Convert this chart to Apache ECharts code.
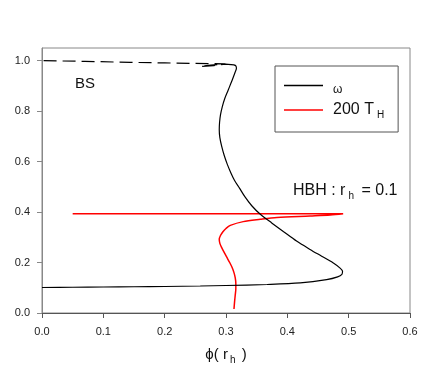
<!DOCTYPE html>
<html>
<head>
<meta charset="utf-8">
<script src="https://cdn.jsdelivr.net/npm/echarts@6/dist/echarts.min.js"></script>
<style>
  html, body { margin: 0; padding: 0; background: #fff; }
  #chart { width: 436px; height: 370px; }
</style>
</head>
<body>
<div id="chart"></div>
<script>
// omega branch (solid)
var omegaPhi = [0, 0.05, 0.1, 0.15, 0.2, 0.258, 0.3, 0.367, 0.421, 0.464, 0.482, 0.489, 0.490, 0.486, 0.475, 0.456, 0.437, 0.415, 0.394, 0.375, 0.356, 0.342, 0.331, 0.322, 0.314, 0.308, 0.302, 0.297, 0.293, 0.290, 0.289, 0.2895, 0.291, 0.294, 0.298, 0.303, 0.308, 0.312, 0.315, 0.317, 0.316, 0.313];
var omegaVal = [0.101, 0.102, 0.103, 0.104, 0.105, 0.107, 0.109, 0.113, 0.119, 0.132, 0.143, 0.153, 0.165, 0.178, 0.198, 0.225, 0.252, 0.285, 0.322, 0.356, 0.391, 0.425, 0.46, 0.495, 0.525, 0.555, 0.59, 0.625, 0.66, 0.695, 0.726, 0.755, 0.785, 0.818, 0.85, 0.88, 0.91, 0.935, 0.955, 0.97, 0.979, 0.983];
// boson star part (dashed)
var bsPhi = [0.313, 0.299, 0.28, 0.258, 0.275, 0.299, 0.25, 0.2, 0.144, 0.07, 0];
var bsVal = [0.983, 0.986, 0.980, 0.977, 0.982, 0.987, 0.989, 0.991, 0.993, 0.997, 1.0];
// 200 T_H
var tempPhi = [0.05, 0.2, 0.35, 0.45, 0.491, 0.47, 0.437, 0.383, 0.356, 0.328, 0.307, 0.300, 0.295, 0.291, 0.289, 0.290, 0.293, 0.297, 0.301, 0.306, 0.310, 0.313, 0.315, 0.316, 0.316, 0.315, 0.314, 0.313];
var tempVal = [0.393, 0.393, 0.393, 0.393, 0.393, 0.388, 0.384, 0.378, 0.371, 0.362, 0.347, 0.335, 0.322, 0.307, 0.292, 0.276, 0.259, 0.24, 0.222, 0.2, 0.18, 0.16, 0.14, 0.118, 0.095, 0.07, 0.045, 0.016];

var yTicks = [0, 0.2, 0.4, 0.6, 0.8, 1.0];

function zip(xs, ys) {
  return xs.map(function (x, i) { return [x, ys[i]]; });
}

var chart = echarts.init(document.getElementById('chart'));
var font = "'Liberation Sans', Arial, sans-serif";

var option = {
  animation: false,
  backgroundColor: '#fff',
  textStyle: { fontFamily: font },
  grid: {
    left: 42, right: 26, top: 48, bottom: 57,
    show: true, borderColor: '#888', borderWidth: 1
  },
  xAxis: {
    type: 'value',
    min: 0, max: 0.6, interval: 0.1,
    axisLine: { show: true, lineStyle: { color: '#555', width: 1 } },
    axisTick: { show: true, inside: false, length: 5, lineStyle: { color: '#555' } },
    axisLabel: { color: '#222', fontSize: 11, margin: 13, formatter: function (v) { return v.toFixed(1); } },
    splitLine: { show: false },
    name: '{a|\u03d5( }{b|r}{s|h}{a| )}',
    nameLocation: 'middle',
    nameGap: 34,
    nameTextStyle: {
      rich: {
        a: { fontSize: 15, color: '#111', lineHeight: 16, verticalAlign: 'top', fontFamily: font },
        b: { fontSize: 15, color: '#111', lineHeight: 16, verticalAlign: 'top', fontFamily: font },
        s: { fontSize: 10, color: '#111', lineHeight: 10, padding: [10, 2, 0, 2], fontFamily: font }
      }
    }
  },
  yAxis: {
    type: 'value',
    min: 0, max: 1.05, interval: 0.2,
    axisLine: { show: true, lineStyle: { color: '#888', width: 1 } },
    axisTick: { show: true, inside: false, length: 5, lineStyle: { color: '#888' } },
    axisLabel: {
      color: '#222', fontSize: 11, margin: 12, showMaxLabel: false,
      formatter: function (v) { return yTicks.indexOf(Math.round(v * 10) / 10) >= 0 ? v.toFixed(1) : ''; }
    },
    splitLine: { show: false }
  },
  legend: {
    orient: 'vertical',
    left: 275, top: 66,
    padding: [9, 14, 12, 9],
    icon: 'rect',
    itemWidth: 39, itemHeight: 1.5, itemGap: 4,
    borderColor: '#555', borderWidth: 1, borderRadius: 0,
    data: ['\u03c9', '200 T_H'],
    formatter: function (n) {
      return n === '\u03c9' ? '{w|\u03c9}' : '{a|200 T}{s|H}';
    },
    textStyle: {
      rich: {
        w: { fontSize: 12, lineHeight: 12, color: '#111', padding: [9, 0, 0, 5], fontFamily: font },
        a: { fontSize: 16, lineHeight: 16, color: '#111', verticalAlign: 'top', padding: [0, 0, 0, 5], fontFamily: font },
        s: { fontSize: 10, lineHeight: 10, color: '#111', padding: [10, 0, 0, 3], fontFamily: font }
      }
    }
  },
  graphic: [
    {
      type: 'text', left: 75, top: 76,
      style: { text: 'BS', fontSize: 15, fill: '#111', fontFamily: font }
    },
    {
      type: 'text', left: 293, top: 181,
      style: {
        text: '{a|HBH : r}{s|h}{a| = 0.1}',
        fill: '#111',
        rich: {
          a: { fontSize: 16, lineHeight: 16, verticalAlign: 'top', fontFamily: font },
          s: { fontSize: 10, lineHeight: 10, padding: [10, 3, 0, 3], fontFamily: font }
        }
      }
    }
  ],
  series: [
    {
      name: '\u03c9',
      type: 'line',
      data: zip(omegaPhi, omegaVal),
      symbol: 'none',
      smooth: 0.3,
      lineStyle: { color: '#000', width: 1.2 },
      itemStyle: { color: '#000' },
      z: 3
    },
    {
      name: 'bs',
      type: 'line',
      data: zip(bsPhi, bsVal),
      symbol: 'none',
      lineStyle: { color: '#000', width: 1.2, type: [13, 6] },
      itemStyle: { color: '#000' },
      z: 3
    },
    {
      name: '200 T_H',
      type: 'line',
      data: zip(tempPhi, tempVal),
      symbol: 'none',
      smooth: 0.3,
      lineStyle: { color: '#ff0000', width: 1.5 },
      itemStyle: { color: '#ff0000' },
      z: 2
    }
  ]
};

chart.setOption(option);
</script>
</body>
</html>
